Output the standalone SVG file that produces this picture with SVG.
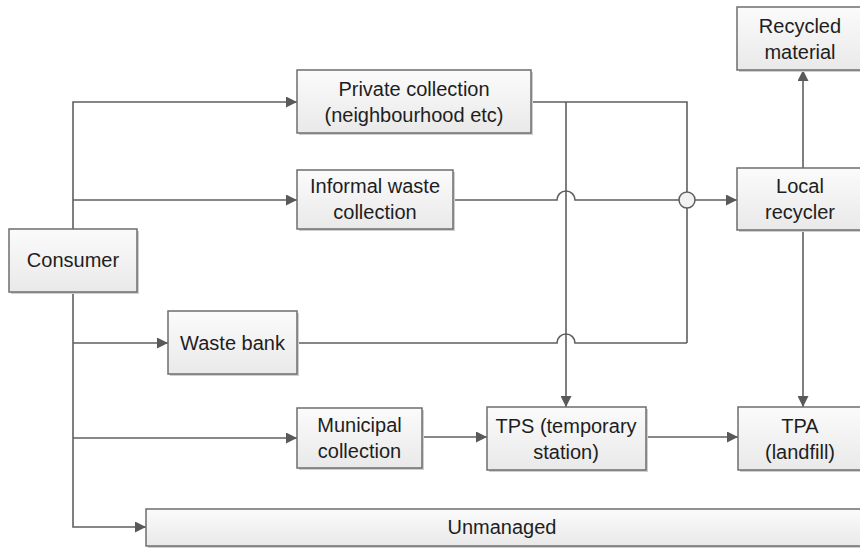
<svg xmlns="http://www.w3.org/2000/svg" width="860" height="548" viewBox="0 0 860 548">
<defs>
<linearGradient id="g" x1="0" y1="0" x2="0" y2="1">
<stop offset="0" stop-color="#fbfbfb"/>
<stop offset="1" stop-color="#e9e9e9"/>
</linearGradient>
<marker id="ar" viewBox="0 0 10 10" refX="10" refY="5" markerWidth="11" markerHeight="11" markerUnits="userSpaceOnUse" orient="auto">
<path d="M0,0 L10,5 L0,10 Z" fill="#595959"/>
</marker>
</defs>
<style>
.box{fill:url(#g);stroke:#6e6e6e;stroke-width:1.5}
.sh{fill:#cfcfcf}
.t{font-family:"Liberation Sans",Arial,sans-serif;font-size:20px;fill:#1e1e1e;text-anchor:middle}
.c{fill:none;stroke:#5f5f5f;stroke-width:1.6}
</style>
<rect width="860" height="548" fill="#ffffff"/>
<g id="connectors">
<!-- trunk -->
<path class="c" d="M73,229 V102 H297" marker-end="url(#ar)"/>
<path class="c" d="M73,200 H297" marker-end="url(#ar)"/>
<path class="c" d="M73,292 V527 H146" marker-end="url(#ar)"/>
<path class="c" d="M73,343 H168" marker-end="url(#ar)"/>
<path class="c" d="M73,438 H297" marker-end="url(#ar)"/>
<!-- private collection -->
<path class="c" d="M531,102 H687 V343"/>
<path class="c" d="M566,102 V407" marker-end="url(#ar)"/>
<!-- informal -->
<path class="c" d="M453,200 H557 A9,9 0 0 1 575,200 H679"/>
<path class="c" d="M695,200 H737" marker-end="url(#ar)"/>
<circle cx="687" cy="200" r="8" fill="#f2f2f2" stroke="#5f5f5f" stroke-width="1.5"/>
<!-- waste bank -->
<path class="c" d="M297,343 H557 A9,9 0 0 1 575,343 H687"/>
<!-- municipal / tps -->
<path class="c" d="M422,437 H487" marker-end="url(#ar)"/>
<path class="c" d="M646,437 H738" marker-end="url(#ar)"/>
<!-- recycler -->
<path class="c" d="M803,168 V70" marker-end="url(#ar)"/>
<path class="c" d="M803,230 V407" marker-end="url(#ar)"/>
</g>
<g id="consumer">
<rect class="sh" x="11" y="231" width="128" height="63"/>
<rect class="box" x="9" y="229" width="128" height="63"/>
<text class="t" x="73" y="267">Consumer</text>
</g>
<g id="private">
<rect class="sh" x="299" y="72" width="234" height="63"/>
<rect class="box" x="297" y="70" width="234" height="63"/>
<text class="t" x="414" y="96">Private collection</text>
<text class="t" x="414" y="122">(neighbourhood etc)</text>
</g>
<g id="informal">
<rect class="sh" x="299" y="172" width="156" height="59"/>
<rect class="box" x="297" y="170" width="156" height="59"/>
<text class="t" x="375" y="193">Informal waste</text>
<text class="t" x="375" y="219">collection</text>
</g>
<g id="wastebank">
<rect class="sh" x="170" y="313" width="129" height="63"/>
<rect class="box" x="168" y="311" width="129" height="63"/>
<text class="t" x="232.5" y="350">Waste bank</text>
</g>
<g id="municipal">
<rect class="sh" x="299" y="410" width="125" height="60"/>
<rect class="box" x="297" y="408" width="125" height="60"/>
<text class="t" x="359.5" y="432">Municipal</text>
<text class="t" x="359.5" y="458">collection</text>
</g>
<g id="tps">
<rect class="sh" x="489" y="409" width="159" height="63"/>
<rect class="box" x="487" y="407" width="159" height="63"/>
<text class="t" x="566" y="433">TPS (temporary</text>
<text class="t" x="566" y="459">station)</text>
</g>
<g id="tpa">
<rect class="sh" x="740" y="409" width="128" height="63"/>
<rect class="box" x="738" y="407" width="128" height="63"/>
<text class="t" x="800" y="433">TPA</text>
<text class="t" x="800" y="459">(landfill)</text>
</g>
<g id="recycler">
<rect class="sh" x="739" y="170" width="128" height="62"/>
<rect class="box" x="737" y="168" width="128" height="62"/>
<text class="t" x="800" y="193">Local</text>
<text class="t" x="800" y="219">recycler</text>
</g>
<g id="recycled">
<rect class="sh" x="739" y="9" width="128" height="63"/>
<rect class="box" x="737" y="7" width="128" height="63"/>
<text class="t" x="800" y="33">Recycled</text>
<text class="t" x="800" y="59">material</text>
</g>
<g id="unmanaged">
<rect class="sh" x="148" y="511" width="720" height="37"/>
<rect class="box" x="146" y="509" width="720" height="37"/>
<text class="t" x="502" y="534">Unmanaged</text>
</g>
</svg>
